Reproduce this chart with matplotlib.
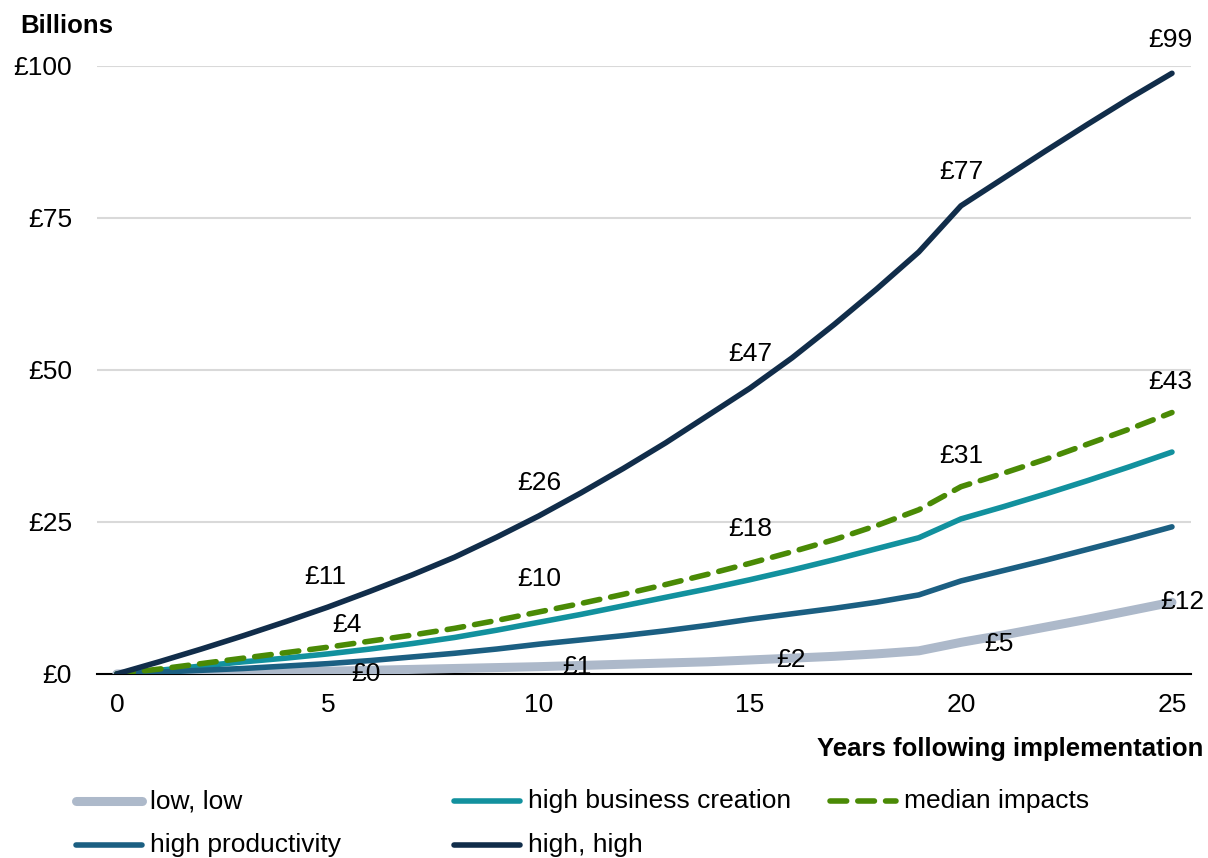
import matplotlib.pyplot as plt
from matplotlib.lines import Line2D

plt.rcParams["font.family"] = ["Liberation Sans", "DejaVu Sans"]

# years after implementation and cumulative impact (£ billions)
years = list(range(26))
low_low = [0, 0.05, 0.1, 0.2, 0.3, 0.45, 0.6, 0.75, 0.9, 1.05, 1.2, 1.4, 1.6,
           1.8, 2.0, 2.3, 2.6, 2.9, 3.3, 3.8, 5.2, 6.4, 7.7, 9.0, 10.4, 11.8]
high_business = [0, 0.6, 1.3, 2.0, 2.6, 3.3, 4.1, 5.0, 6.0, 7.2, 8.5, 9.8, 11.2,
                 12.6, 14.0, 15.5, 17.1, 18.8, 20.6, 22.4, 25.5, 27.5, 29.6,
                 31.8, 34.1, 36.5]
median_impacts = [0, 0.8, 1.7, 2.6, 3.5, 4.4, 5.4, 6.4, 7.5, 8.8, 10.2, 11.6,
                  13.1, 14.7, 16.4, 18.2, 20.1, 22.1, 24.4, 27.0, 30.8, 33.0,
                  35.3, 37.8, 40.3, 43.0]
high_productivity = [0, 0.3, 0.6, 0.9, 1.3, 1.7, 2.2, 2.8, 3.4, 4.1, 4.9, 5.6,
                     6.3, 7.1, 8.0, 9.0, 9.9, 10.8, 11.8, 13.0, 15.3, 17.0,
                     18.7, 20.5, 22.3, 24.2]
high_high = [0, 2.0, 4.1, 6.3, 8.6, 11.0, 13.6, 16.3, 19.2, 22.5, 26.0, 29.8,
             33.8, 38.0, 42.5, 47.0, 52.0, 57.5, 63.3, 69.4, 77.0, 81.5, 86.0,
             90.4, 94.7, 98.8]

label_years = [5, 10, 15, 20, 25]
y_ticks = [0, 25, 50, 75, 100]
x_ticks = [0, 5, 10, 15, 20, 25]

C_LOW = "#adb9ca"
C_HBC = "#12919e"
C_MED = "#4a8a05"
C_HP = "#1b5f82"
C_HH = "#112d4a"
LW = 4.0
DASH = (3.0, 2.0)

fig = plt.figure(figsize=(12.08, 8.58), dpi=100)
ax = fig.add_axes([0.0803, 0.2145, 0.9056, 0.7086])

ax.plot(years, low_low, color=C_LOW, lw=6.5, solid_capstyle="round", zorder=3)
ax.plot(years, high_business, color=C_HBC, lw=LW, solid_capstyle="round", zorder=4)
ax.plot(years, high_productivity, color=C_HP, lw=LW, solid_capstyle="round", zorder=4)
ax.plot(years, median_impacts, color=C_MED, lw=LW, dashes=DASH,
        dash_capstyle="round", zorder=5)
ax.plot(years, high_high, color=C_HH, lw=LW, solid_capstyle="round", zorder=6)

ax.set_xlim(-0.47, 25.45)
ax.set_ylim(0, 100)
ax.set_yticks(y_ticks)
ax.set_yticklabels([f"£{v}" for v in y_ticks])
ax.set_xticks(x_ticks)
ax.tick_params(axis="y", length=0, pad=18, labelsize=19)
ax.tick_params(axis="x", length=0, pad=14, labelsize=19)
ax.grid(axis="y", color="#d9d9d9", lw=1.5)
ax.set_axisbelow(True)
for side in ["left", "right", "top"]:
    ax.spines[side].set_visible(False)
ax.spines["bottom"].set_color("black")
ax.spines["bottom"].set_linewidth(1.5)
ax.spines["bottom"].set_zorder(2)


def add_labels(series, offsets, ha="center"):
    for yr, (dx, dy) in zip(label_years, offsets):
        v = series[yr]
        ax.annotate(f"£{v:.0f}", (yr, v), xytext=(dx * 0.72, dy * 0.72),
                    textcoords="offset points", ha=ha, va="center",
                    fontsize=19, annotation_clip=False, zorder=8)


# offsets given in pixels
add_labels(high_high, [(-3, 30), (0, 33), (0, 34), (0, 34), (-2, 33)])
add_labels(median_impacts, [(19, 22), (0, 33), (0, 34), (0, 31), (-2, 31)])
add_labels(low_low, [(23, -3), (23, 0), (26, 0), (23, -2), (-12, 0)], ha="left")

fig.text(0.017, 0.97, "Billions", fontsize=18.5, fontweight="bold",
         ha="left", va="center")
fig.text(0.996, 0.127, "Years following implementation", fontsize=18.5,
         fontweight="bold", ha="right", va="center")

# legend laid out in a fixed grid
legend_items = [
    ("low, low", C_LOW, 6.5, None, 72, 801),
    ("high business creation", C_HBC, LW, None, 450, 801),
    ("median impacts", C_MED, LW, DASH, 826, 801),
    ("high productivity", C_HP, LW, None, 72, 845),
    ("high, high", C_HH, LW, None, 450, 845),
]
W, H = 1208, 858
for text, color, lw, dash, x0, y0 in legend_items:
    ln = Line2D([(x0 + 4) / W, (x0 + 70) / W], [1 - y0 / H, 1 - y0 / H],
                transform=fig.transFigure, color=color, lw=lw,
                solid_capstyle="round", dash_capstyle="round")
    if dash:
        ln.set_dashes(dash)
    fig.add_artist(ln)
    fig.text((x0 + 78) / W, 1 - y0 / H, text, fontsize=19, ha="left", va="center")

fig.savefig("out.png", dpi=100)
